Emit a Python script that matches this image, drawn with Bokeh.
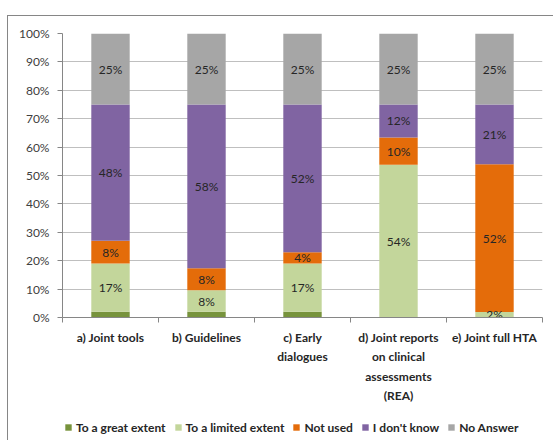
from bokeh.plotting import figure
from bokeh.layouts import column
from bokeh.models import (ColumnDataSource, FixedTicker, Range1d, PrintfTickFormatter,
                          CustomJSTickFormatter, Legend, LegendItem)
from bokeh.core.properties import value
from bokeh.embed import file_html
from bokeh.resources import INLINE

categories = ["a) Joint tools", "b) Guidelines", "c) Early\ndialogues",
              "d) Joint reports\non clinical\nassessments\n(REA)", "e) Joint full HTA"]
series_names = ["To a great extent", "To a limited extent", "Not used", "I don't know", "No Answer"]
great_extent = [2, 2, 2, 0, 0]
limited_extent = [17, 7.6, 17, 53.8, 1.9]
not_used = [8, 7.7, 4, 9.6, 52.1]
dont_know = [48, 57.7, 52, 11.6, 21]
no_answer = [25, 25, 25, 25, 25]
y_ticks = [0, 10, 20, 30, 40, 50, 60, 70, 80, 90, 100]

colors = ["#77933C", "#C3D69B", "#E46C0A", "#8064A2", "#A6A6A6"]
keys = ["great", "limited", "notused", "dontknow", "noanswer"]
series = [great_extent, limited_extent, not_used, dont_know, no_answer]

xs = [i + 0.5 for i in range(len(categories))]
data = {"x": xs}
for k, s in zip(keys, series):
    data[k] = s
source = ColumnDataSource(data)

FONT = "Lato"

p = figure(frame_width=480, frame_height=284, min_border_left=54, min_border_right=11,
           min_border_top=17, min_border_bottom=0,
           x_range=Range1d(0, len(categories)), y_range=Range1d(0, 100),
           output_backend="svg", toolbar_location=None)

renderers = p.vbar_stack(keys, x="x", width=0.4, color=colors, line_color=None, source=source)

# data labels
lx, ly, lt = [], [], []
for si in range(1, len(series)):
    for ci in range(len(categories)):
        v = series[si][ci]
        if v <= 0:
            continue
        base = sum(series[j][ci] for j in range(si))
        lx.append(xs[ci])
        ly.append(base + v / 2)
        lt.append(f"{round(v)}%")
p.text(x=lx, y=ly, text=lt, text_align="center", text_baseline="middle",
       text_font=value(FONT), text_font_size="12px", text_color="#262626")

# axes
p.yaxis.ticker = FixedTicker(ticks=y_ticks)
p.yaxis.formatter = PrintfTickFormatter(format="%d%%")
p.yaxis.axis_line_color = "#868686"
p.yaxis.major_tick_line_color = "#868686"
p.yaxis.major_tick_out = 5
p.yaxis.major_tick_in = 0
p.yaxis.minor_tick_line_color = None
p.yaxis.major_label_text_font = FONT
p.yaxis.major_label_text_font_size = "12px"
p.yaxis.major_label_text_color = "#404040"
p.yaxis.major_label_standoff = 8

p.xaxis.ticker = FixedTicker(ticks=xs, minor_ticks=list(range(len(categories) + 1)))
p.xaxis.formatter = CustomJSTickFormatter(args=dict(labels=categories),
                                          code="return labels[Math.floor(tick)];")
p.xaxis.axis_line_color = "#868686"
p.xaxis.major_tick_line_color = None
p.xaxis.major_tick_out = 0
p.xaxis.major_tick_in = 0
p.xaxis.minor_tick_line_color = "#868686"
p.xaxis.minor_tick_out = 5
p.xaxis.minor_tick_in = 0
p.xaxis.major_label_text_font = FONT
p.xaxis.major_label_text_font_style = "bold"
p.xaxis.major_label_text_font_size = "12px"
p.xaxis.major_label_text_color = "#262626"
p.xaxis.major_label_text_line_height = 1.3
p.xaxis.major_label_standoff = 7

p.xgrid.grid_line_color = None
p.ygrid.grid_line_color = "#BFBFBF"
p.outline_line_color = None

# legend strip (separate figure below the chart, no axes)
pl = figure(width=545, height=34, min_border=0, min_border_left=0, min_border_right=0,
            min_border_top=0, min_border_bottom=0,
            x_axis_location=None, y_axis_location=None,
            x_range=Range1d(0, len(categories)), y_range=Range1d(1000, 1001),
            output_backend="svg", toolbar_location=None)
leg_renderers = pl.vbar_stack(keys, x="x", width=0.4, color=colors, line_color=None, source=source)
pl.grid.visible = False
pl.outline_line_color = None
legend = Legend(items=[LegendItem(label=n, renderers=[r]) for n, r in zip(series_names, leg_renderers)],
                orientation="horizontal", location=(2, 3), padding=0, margin=0,
                label_height=20,
                border_line_color=None, background_fill_alpha=0,
                glyph_width=8, glyph_height=8, label_standoff=4, spacing=8,
                label_text_font=FONT, label_text_font_style="bold",
                label_text_font_size="12px", label_text_color="#262626")
pl.add_layout(legend, "center")

layout = column(p, pl, spacing=0)
layout.styles = {"margin-left": "7px", "margin-top": "15px",
                 "border-left": "1px solid #868686", "border-top": "1px solid #868686"}

open("out.html", "w").write(file_html(layout, INLINE))
